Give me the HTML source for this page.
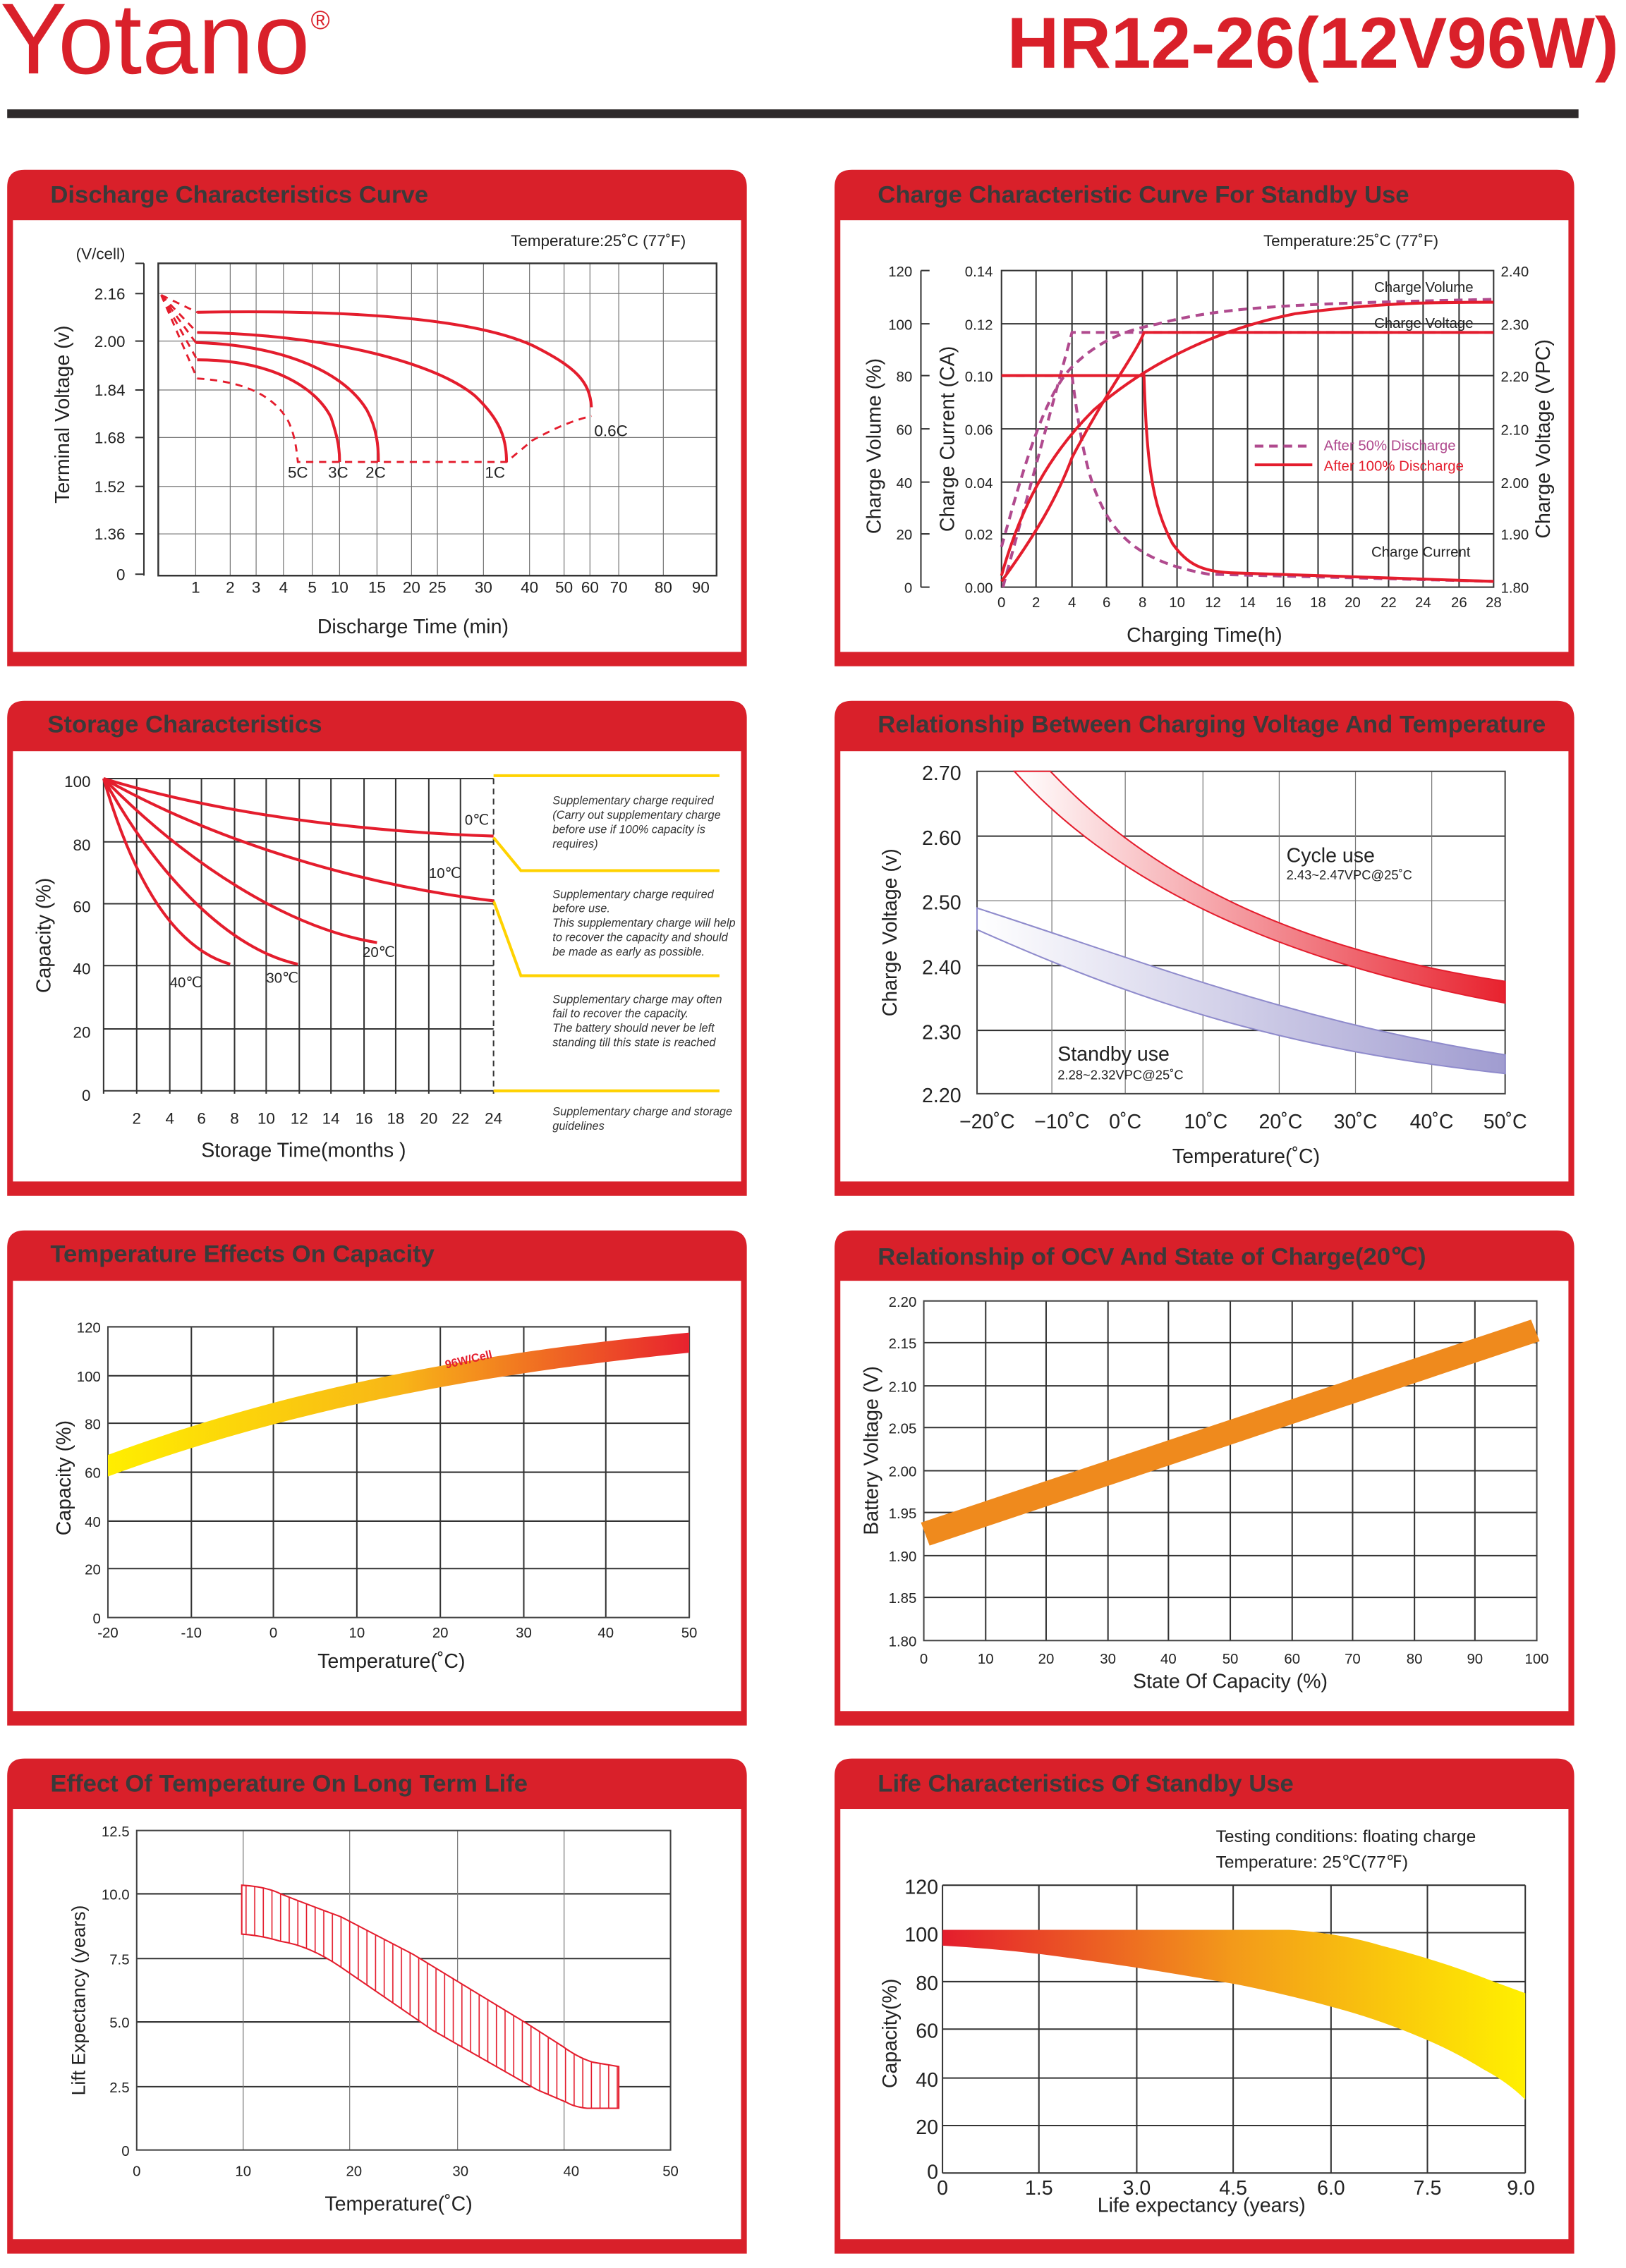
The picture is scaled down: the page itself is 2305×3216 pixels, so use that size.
<!DOCTYPE html>
<html><head><meta charset="utf-8"><style>
html,body{margin:0;padding:0;background:#fff;overflow:hidden;width:2305px;height:3216px}
svg{display:block}
text{font-family:"Liberation Sans",sans-serif}
</style></head><body>
<svg width="2305" height="3216" viewBox="0 0 1130 1576" preserveAspectRatio="none" xmlns="http://www.w3.org/2000/svg">
<defs>
<linearGradient id="gC" x1="0" x2="1"><stop offset="0" stop-color="#fff"/><stop offset="1" stop-color="#e8222e"/></linearGradient>
<linearGradient id="gS" x1="0" x2="1"><stop offset="0" stop-color="#fff"/><stop offset="1" stop-color="#a09cd0"/></linearGradient>
<linearGradient id="gT" x1="0" x2="1"><stop offset="0" stop-color="#ffee00"/><stop offset="0.5" stop-color="#f8b617"/><stop offset="1" stop-color="#e8222e"/></linearGradient>
<linearGradient id="gL" x1="0" x2="1"><stop offset="0" stop-color="#e41d2d"/><stop offset="0.5" stop-color="#f39a1a"/><stop offset="1" stop-color="#fff000"/></linearGradient>
<pattern id="hat" width="6" height="10" patternUnits="userSpaceOnUse"><rect width="6" height="10" fill="#fff"/><line x1="3" y1="0" x2="3" y2="10" stroke="#e41d2d" stroke-width="0.8"/></pattern>
</defs>
<style>
.g{stroke:#777;stroke-width:0.6}
.gd{stroke:#333;stroke-width:1}
.t{font-size:11px;fill:#222}
.ts{font-size:10px;fill:#222}
.h{font-size:17px;font-weight:bold;fill:#3a3a3a}
.r{fill:none;stroke:#e41d2d;stroke-width:2}
.rd{fill:none;stroke:#e41d2d;stroke-width:1.4;stroke-dasharray:5 4}
.pd{fill:none;stroke:#b04a8e;stroke-width:2;stroke-dasharray:6 4}
</style>
<!-- header -->
<text x="0" y="51" font-size="70" fill="#d9202a">Yotano</text>
<text x="216" y="20" font-size="18" fill="#d9202a">®</text>
<text x="1125" y="47" font-size="50" font-weight="bold" fill="#d9202a" text-anchor="end">HR12-26(12V96W)</text>
<rect x="5" y="76" width="1092" height="6" fill="#2e2a2b"/>

<!-- panels -->
<g fill="#d9202a">
<path d="M5,130 Q5,118 17,118 H507 Q519,118 519,130 V463 H5Z"/>
<path d="M580,130 Q580,118 592,118 H1082 Q1094,118 1094,130 V463 H580Z"/>
<path d="M5,499 Q5,487 17,487 H507 Q519,487 519,499 V831 H5Z"/>
<path d="M580,499 Q580,487 592,487 H1082 Q1094,487 1094,499 V831 H580Z"/>
<path d="M5,867 Q5,855 17,855 H507 Q519,855 519,867 V1199 H5Z"/>
<path d="M580,867 Q580,855 592,855 H1082 Q1094,855 1094,867 V1199 H580Z"/>
<path d="M5,1234 Q5,1222 17,1222 H507 Q519,1222 519,1234 V1566 H5Z"/>
<path d="M580,1234 Q580,1222 592,1222 H1082 Q1094,1222 1094,1234 V1566 H580Z"/>
</g>
<g fill="#fff">
<rect x="9" y="153" width="506" height="300"/><rect x="584" y="153" width="506" height="300"/>
<rect x="9" y="522" width="506" height="299"/><rect x="584" y="522" width="506" height="299"/>
<rect x="9" y="890" width="506" height="299"/><rect x="584" y="890" width="506" height="299"/>
<rect x="9" y="1257" width="506" height="299"/><rect x="584" y="1257" width="506" height="299"/>
</g>
<text class="h" x="35" y="141">Discharge Characteristics Curve</text>
<text class="h" x="610" y="141">Charge Characteristic Curve For Standby Use</text>
<text class="h" x="33" y="509">Storage Characteristics</text>
<text class="h" x="610" y="509">Relationship Between Charging Voltage And Temperature</text>
<text class="h" x="35" y="877">Temperature Effects On Capacity</text>
<text class="h" x="610" y="879">Relationship of OCV And State of Charge(20℃)</text>
<text class="h" x="35" y="1245">Effect Of Temperature On Long Term Life</text>
<text class="h" x="610" y="1245">Life Characteristics Of Standby Use</text>

<!-- P1 discharge -->
<g>
<text class="t" x="355" y="171">Temperature:25˚C (77˚F)</text>
<line x1="100" y1="183" x2="100" y2="400" stroke="#333"/>
<g class="gd"><line x1="94" y1="183" x2="100" y2="183"/><line x1="94" y1="204" x2="100" y2="204"/><line x1="94" y1="237" x2="100" y2="237"/><line x1="94" y1="271" x2="100" y2="271"/><line x1="94" y1="304" x2="100" y2="304"/><line x1="94" y1="338" x2="100" y2="338"/><line x1="94" y1="371" x2="100" y2="371"/><line x1="94" y1="399" x2="100" y2="399"/></g>
<g class="g"><line x1="110" y1="204" x2="498" y2="204"/><line x1="110" y1="237" x2="498" y2="237"/><line x1="110" y1="271" x2="498" y2="271"/><line x1="110" y1="304" x2="498" y2="304"/><line x1="110" y1="338" x2="498" y2="338"/><line x1="110" y1="371" x2="498" y2="371"/>
<line x1="136" y1="183" x2="136" y2="400"/><line x1="160" y1="183" x2="160" y2="400"/><line x1="178" y1="183" x2="178" y2="400"/><line x1="197" y1="183" x2="197" y2="400"/><line x1="217" y1="183" x2="217" y2="400"/><line x1="236" y1="183" x2="236" y2="400"/><line x1="262" y1="183" x2="262" y2="400"/><line x1="286" y1="183" x2="286" y2="400"/><line x1="304" y1="183" x2="304" y2="400"/><line x1="336" y1="183" x2="336" y2="400"/><line x1="368" y1="183" x2="368" y2="400"/><line x1="392" y1="183" x2="392" y2="400"/><line x1="410" y1="183" x2="410" y2="400"/><line x1="430" y1="183" x2="430" y2="400"/><line x1="461" y1="183" x2="461" y2="400"/></g>
<rect x="110" y="183" width="388" height="217" fill="none" stroke="#333" stroke-width="1.2"/>
<g class="t" text-anchor="end"><text x="87" y="180">(V/cell)</text><text x="87" y="208">2.16</text><text x="87" y="241">2.00</text><text x="87" y="275">1.84</text><text x="87" y="308">1.68</text><text x="87" y="342">1.52</text><text x="87" y="375">1.36</text><text x="87" y="403">0</text></g>
<g class="t" text-anchor="middle"><text x="136" y="412">1</text><text x="160" y="412">2</text><text x="178" y="412">3</text><text x="197" y="412">4</text><text x="217" y="412">5</text><text x="236" y="412">10</text><text x="262" y="412">15</text><text x="286" y="412">20</text><text x="304" y="412">25</text><text x="336" y="412">30</text><text x="368" y="412">40</text><text x="392" y="412">50</text><text x="410" y="412">60</text><text x="430" y="412">70</text><text x="461" y="412">80</text><text x="487" y="412">90</text></g>
<text x="287" y="440" font-size="14" text-anchor="middle" fill="#222">Discharge Time (min)</text>
<text transform="translate(48,288) rotate(-90)" font-size="14" text-anchor="middle" fill="#222">Terminal  Voltage  (v)</text>
<path class="r" d="M137,217 C250,215 330,222 370,240 C400,255 410,265 411,283"/>
<path class="r" d="M137,231 C220,232 300,250 330,275 C348,292 352,305 352,321"/>
<path class="r" d="M136,238 C200,240 240,260 255,285 C262,298 263,310 263,321"/>
<path class="r" d="M137,250 C190,250 220,270 230,290 C235,305 236,312 236,321"/>
<path class="rd" d="M137,263 C170,265 190,275 200,292 C205,302 206,312 207,321 H352 L370,306 C390,295 400,292 411,289"/>
<path class="rd" d="M112,205 L137,217 M112,205 L137,231 M112,205 L136,238 M112,205 L137,250 M112,205 L137,263"/>
<g class="t" font-size="12"><text x="200" y="332">5C</text><text x="228" y="332">3C</text><text x="254" y="332">2C</text><text x="337" y="332">1C</text><text x="413" y="303">0.6C</text></g>
</g>

<!-- P2 charge -->
<g>
<text class="t" x="878" y="171">Temperature:25˚C (77˚F)</text>
<line x1="640" y1="188" x2="640" y2="408" stroke="#333"/>
<g class="gd"><line x1="640" y1="188" x2="646" y2="188"/><line x1="640" y1="225" x2="646" y2="225"/><line x1="640" y1="261" x2="646" y2="261"/><line x1="640" y1="298" x2="646" y2="298"/><line x1="640" y1="335" x2="646" y2="335"/><line x1="640" y1="371" x2="646" y2="371"/><line x1="640" y1="408" x2="646" y2="408"/>
<line x1="696" y1="225" x2="1038" y2="225"/><line x1="696" y1="261" x2="1038" y2="261"/><line x1="696" y1="298" x2="1038" y2="298"/><line x1="696" y1="335" x2="1038" y2="335"/><line x1="696" y1="371" x2="1038" y2="371"/>
<line x1="720" y1="188" x2="720" y2="408"/><line x1="745" y1="188" x2="745" y2="408"/><line x1="769" y1="188" x2="769" y2="408"/><line x1="794" y1="188" x2="794" y2="408"/><line x1="818" y1="188" x2="818" y2="408"/><line x1="843" y1="188" x2="843" y2="408"/><line x1="867" y1="188" x2="867" y2="408"/><line x1="892" y1="188" x2="892" y2="408"/><line x1="916" y1="188" x2="916" y2="408"/><line x1="940" y1="188" x2="940" y2="408"/><line x1="965" y1="188" x2="965" y2="408"/><line x1="989" y1="188" x2="989" y2="408"/><line x1="1014" y1="188" x2="1014" y2="408"/></g>
<rect x="696" y="188" width="342" height="220" fill="none" stroke="#333"/>
<g class="ts" text-anchor="end"><text x="634" y="192">120</text><text x="634" y="229">100</text><text x="634" y="265">80</text><text x="634" y="302">60</text><text x="634" y="339">40</text><text x="634" y="375">20</text><text x="634" y="412">0</text>
<text x="690" y="192">0.14</text><text x="690" y="229">0.12</text><text x="690" y="265">0.10</text><text x="690" y="302">0.06</text><text x="690" y="339">0.04</text><text x="690" y="375">0.02</text><text x="690" y="412">0.00</text></g>
<g class="ts"><text x="1043" y="192">2.40</text><text x="1043" y="229">2.30</text><text x="1043" y="265">2.20</text><text x="1043" y="302">2.10</text><text x="1043" y="339">2.00</text><text x="1043" y="375">1.90</text><text x="1043" y="412">1.80</text></g>
<g class="ts" text-anchor="middle"><text x="696" y="422">0</text><text x="720" y="422">2</text><text x="745" y="422">4</text><text x="769" y="422">6</text><text x="794" y="422">8</text><text x="818" y="422">10</text><text x="843" y="422">12</text><text x="867" y="422">14</text><text x="892" y="422">16</text><text x="916" y="422">18</text><text x="940" y="422">20</text><text x="965" y="422">22</text><text x="989" y="422">24</text><text x="1014" y="422">26</text><text x="1038" y="422">28</text></g>
<text x="837" y="446" font-size="14" text-anchor="middle" fill="#222">Charging Time(h)</text>
<text transform="translate(612,310) rotate(-90)" font-size="14" text-anchor="middle" fill="#222">Charge Volume (%)</text>
<text transform="translate(663,305) rotate(-90)" font-size="14" text-anchor="middle" fill="#222">Charge Current (CA)</text>
<text transform="translate(1077,305) rotate(-90)" font-size="14" text-anchor="middle" fill="#222">Charge Voltage (VPC)</text>
<path class="pd" d="M696,261 H745 M697,408 L745,231 H1038"/>
<path class="pd" d="M696,380 C710,330 725,275 745,255 C765,235 785,229 805,225 C850,213 900,211 1038,208"/>
<path class="pd" d="M745,261 C750,300 755,330 765,350 C778,378 800,392 840,399 L1038,404"/>
<path class="r" d="M696,261 H795 C797,320 800,350 815,378 C825,392 835,397 855,398 L1038,404"/>
<path class="r" d="M696,404 C720,371 735,345 745,318 C770,270 790,245 795,231 H1038"/>
<path class="r" d="M696,400 C710,350 730,315 760,285 C800,250 850,228 900,218 C960,210 1000,210 1038,210"/>
<text class="ts" x="955" y="203" font-size="12">Charge Volume</text>
<text class="ts" x="955" y="228" font-size="12">Charge Voltage</text>
<text class="ts" x="953" y="387" font-size="12">Charge Current</text>
<line x1="872" y1="310" x2="912" y2="310" class="pd"/>
<line x1="872" y1="323" x2="912" y2="323" class="r"/>
<text x="920" y="313" font-size="10" fill="#b04a8e">After 50% Discharge</text>
<text x="920" y="327" font-size="10" fill="#e41d2d">After 100% Discharge</text>
</g>

<!-- P3 storage -->
<g>
<g class="gd"><line x1="72" y1="585" x2="343" y2="585"/><line x1="72" y1="628" x2="343" y2="628"/><line x1="72" y1="671" x2="343" y2="671"/><line x1="72" y1="715" x2="343" y2="715"/>
<line x1="95" y1="541" x2="95" y2="760"/><line x1="118" y1="541" x2="118" y2="760"/><line x1="140" y1="541" x2="140" y2="760"/><line x1="163" y1="541" x2="163" y2="760"/><line x1="185" y1="541" x2="185" y2="760"/><line x1="208" y1="541" x2="208" y2="760"/><line x1="230" y1="541" x2="230" y2="760"/><line x1="253" y1="541" x2="253" y2="760"/><line x1="275" y1="541" x2="275" y2="760"/><line x1="298" y1="541" x2="298" y2="760"/><line x1="320" y1="541" x2="320" y2="760"/></g>
<line x1="72" y1="541" x2="343" y2="541" stroke="#333"/><line x1="72" y1="758" x2="343" y2="758" stroke="#333"/>
<line x1="72" y1="541" x2="72" y2="760" stroke="#333"/><line x1="343" y1="541" x2="343" y2="760" stroke="#333" stroke-dasharray="4 3"/>
<g stroke="#ffd200" stroke-width="2" fill="none"><path d="M343,539 H500"/><path d="M343,582 L362,605 H500"/><path d="M343,626 L362,678 H500"/><path d="M343,758 H500"/></g>
<g class="r" stroke-width="1.1"><path d="M72,541 C150,565 250,578 343,581"/><path d="M72,541 C150,585 250,615 343,626"/><path d="M72,541 C130,600 200,645 262,655"/><path d="M72,541 C110,610 160,660 207,670"/><path d="M72,541 C95,620 125,660 160,670"/></g>
<g class="ts" fill="#333"><text x="323" y="573">0℃</text><text x="298" y="610">10℃</text><text x="252" y="665">20℃</text><text x="185" y="683">30℃</text><text x="118" y="686">40℃</text></g>
<g class="t" font-size="13" text-anchor="end"><text x="63" y="547">100</text><text x="63" y="591">80</text><text x="63" y="634">60</text><text x="63" y="677">40</text><text x="63" y="721">20</text><text x="63" y="765">0</text></g>
<g class="t" font-size="12" text-anchor="middle"><text x="95" y="781">2</text><text x="118" y="781">4</text><text x="140" y="781">6</text><text x="163" y="781">8</text><text x="185" y="781">10</text><text x="208" y="781">12</text><text x="230" y="781">14</text><text x="253" y="781">16</text><text x="275" y="781">18</text><text x="298" y="781">20</text><text x="320" y="781">22</text><text x="343" y="781">24</text></g>
<text x="211" y="804" font-size="14" text-anchor="middle" fill="#222">Storage Time(months )</text>
<text transform="translate(35,650) rotate(-90)" font-size="14" text-anchor="middle" fill="#222">Capacity  (%)</text>
<g font-size="8" font-style="italic" fill="#333"><text x="384" y="559">Supplementary charge required</text><text x="384" y="569">(Carry out supplementary charge</text><text x="384" y="579">before use if 100% capacity is</text><text x="384" y="589">requires)</text>
<text x="384" y="624">Supplementary charge required</text><text x="384" y="634">before use.</text><text x="384" y="644">This supplementary charge will help</text><text x="384" y="654">to recover the capacity and should</text><text x="384" y="664">be made  as early as possible.</text>
<text x="384" y="697">Supplementary charge may often</text><text x="384" y="707">fail to recover the capacity.</text><text x="384" y="717">The battery should never be left</text><text x="384" y="727">standing till this state is reached</text>
<text x="384" y="775">Supplementary charge and storage</text><text x="384" y="785">guidelines</text></g>
</g>

<!-- P4 voltage vs temp -->
<g>
<g class="gd"><line x1="679" y1="581" x2="1046" y2="581"/><line x1="679" y1="671" x2="1046" y2="671"/><line x1="679" y1="716" x2="1046" y2="716"/></g>
<g class="g"><line x1="679" y1="626" x2="1046" y2="626"/><line x1="731" y1="536" x2="731" y2="760"/><line x1="782" y1="536" x2="782" y2="760"/><line x1="836" y1="536" x2="836" y2="760"/><line x1="889" y1="536" x2="889" y2="760"/><line x1="942" y1="536" x2="942" y2="760"/><line x1="995" y1="536" x2="995" y2="760"/></g>
<rect x="679" y="536" width="367" height="224" fill="none" stroke="#444"/>
<path d="M705,536 H730 C800,610 900,660 1046,682 V697 C900,670 780,620 705,536Z" fill="url(#gC)" stroke="#e41d2d" stroke-width="1"/>
<path d="M679,631 C800,670 900,710 1046,733 V746 C900,730 800,700 679,646Z" fill="url(#gS)" stroke="#8f8bcc" stroke-width="1"/>
<g font-size="14" fill="#222" text-anchor="end"><text x="668" y="542">2.70</text><text x="668" y="587">2.60</text><text x="668" y="632">2.50</text><text x="668" y="677">2.40</text><text x="668" y="722">2.30</text><text x="668" y="766">2.20</text></g>
<g font-size="14" fill="#222" text-anchor="middle"><text x="686" y="784">−20˚C</text><text x="738" y="784">−10˚C</text><text x="782" y="784">0˚C</text><text x="838" y="784">10˚C</text><text x="890" y="784">20˚C</text><text x="942" y="784">30˚C</text><text x="995" y="784">40˚C</text><text x="1046" y="784">50˚C</text></g>
<text x="866" y="808" font-size="14" text-anchor="middle" fill="#222">Temperature(˚C)</text>
<text transform="translate(623,648) rotate(-90)" font-size="14" text-anchor="middle" fill="#222">Charge Voltage  (v)</text>
<text x="894" y="599" font-size="14" fill="#222">Cycle use</text><text x="894" y="611" font-size="9" fill="#222">2.43~2.47VPC@25˚C</text>
<text x="735" y="737" font-size="14" fill="#222">Standby use</text><text x="735" y="750" font-size="9" fill="#222">2.28~2.32VPC@25˚C</text>
</g>

<!-- P5 temp capacity -->
<g>
<g class="gd"><line x1="75" y1="922" x2="479" y2="922"/><line x1="75" y1="956" x2="479" y2="956"/><line x1="75" y1="989" x2="479" y2="989"/><line x1="75" y1="1023" x2="479" y2="1023"/><line x1="75" y1="1057" x2="479" y2="1057"/><line x1="75" y1="1090" x2="479" y2="1090"/>
<line x1="133" y1="922" x2="133" y2="1124"/><line x1="190" y1="922" x2="190" y2="1124"/><line x1="248" y1="922" x2="248" y2="1124"/><line x1="306" y1="922" x2="306" y2="1124"/><line x1="364" y1="922" x2="364" y2="1124"/><line x1="421" y1="922" x2="421" y2="1124"/><line x1="479" y1="922" x2="479" y2="1124"/></g>
<rect x="75" y="922" width="404" height="202" fill="none" stroke="#444"/>
<path d="M75,1011 C200,965 330,940 479,926 V940 C330,955 200,980 75,1026Z" fill="url(#gT)"/>
<text transform="translate(310,951) rotate(-13)" font-size="8" font-weight="bold" fill="#e41d2d">96W/Cell</text>
<g class="ts" text-anchor="end"><text x="70" y="926">120</text><text x="70" y="960">100</text><text x="70" y="993">80</text><text x="70" y="1027">60</text><text x="70" y="1061">40</text><text x="70" y="1094">20</text><text x="70" y="1128">0</text></g>
<g class="ts" text-anchor="middle"><text x="75" y="1138">-20</text><text x="133" y="1138">-10</text><text x="190" y="1138">0</text><text x="248" y="1138">10</text><text x="306" y="1138">20</text><text x="364" y="1138">30</text><text x="421" y="1138">40</text><text x="479" y="1138">50</text></g>
<text x="272" y="1159" font-size="14" text-anchor="middle" fill="#222">Temperature(˚C)</text>
<text transform="translate(49,1027) rotate(-90)" font-size="14" text-anchor="middle" fill="#222">Capacity  (%)</text>
</g>

<!-- P6 OCV -->
<g>
<g class="gd"><line x1="642" y1="933" x2="1068" y2="933"/><line x1="642" y1="963" x2="1068" y2="963"/><line x1="642" y1="992" x2="1068" y2="992"/><line x1="642" y1="1022" x2="1068" y2="1022"/><line x1="642" y1="1051" x2="1068" y2="1051"/><line x1="642" y1="1081" x2="1068" y2="1081"/><line x1="642" y1="1110" x2="1068" y2="1110"/>
<line x1="685" y1="904" x2="685" y2="1140"/><line x1="727" y1="904" x2="727" y2="1140"/><line x1="770" y1="904" x2="770" y2="1140"/><line x1="812" y1="904" x2="812" y2="1140"/><line x1="855" y1="904" x2="855" y2="1140"/><line x1="898" y1="904" x2="898" y2="1140"/><line x1="940" y1="904" x2="940" y2="1140"/><line x1="983" y1="904" x2="983" y2="1140"/><line x1="1025" y1="904" x2="1025" y2="1140"/></g>
<rect x="642" y="904" width="426" height="236" fill="none" stroke="#444"/>
<path d="M640,1058 L1064,917 L1070,932 L646,1074Z" fill="#ef8a1d"/>
<g class="ts" text-anchor="end"><text x="637" y="908">2.20</text><text x="637" y="937">2.15</text><text x="637" y="967">2.10</text><text x="637" y="996">2.05</text><text x="637" y="1026">2.00</text><text x="637" y="1055">1.95</text><text x="637" y="1085">1.90</text><text x="637" y="1114">1.85</text><text x="637" y="1144">1.80</text></g>
<g class="ts" text-anchor="middle"><text x="642" y="1156">0</text><text x="685" y="1156">10</text><text x="727" y="1156">20</text><text x="770" y="1156">30</text><text x="812" y="1156">40</text><text x="855" y="1156">50</text><text x="898" y="1156">60</text><text x="940" y="1156">70</text><text x="983" y="1156">80</text><text x="1025" y="1156">90</text><text x="1068" y="1156">100</text></g>
<text x="855" y="1173" font-size="14" text-anchor="middle" fill="#222">State Of Capacity (%)</text>
<text transform="translate(610,1008) rotate(-90)" font-size="14" text-anchor="middle" fill="#222">Battery Voltage (V)</text>
</g>

<!-- P7 life temp -->
<g>
<g class="gd"><line x1="95" y1="1316" x2="466" y2="1316"/><line x1="95" y1="1361" x2="466" y2="1361"/><line x1="95" y1="1405" x2="466" y2="1405"/><line x1="95" y1="1450" x2="466" y2="1450"/></g>
<g class="g"><line x1="169" y1="1272" x2="169" y2="1494"/><line x1="243" y1="1272" x2="243" y2="1494"/><line x1="318" y1="1272" x2="318" y2="1494"/><line x1="392" y1="1272" x2="392" y2="1494"/></g>
<rect x="95" y="1272" width="371" height="222" fill="none" stroke="#444"/>
<path d="M168,1310 Q185,1311 195,1316 Q210,1322 237,1332 L287,1358 L366,1406 Q380,1415 391,1422 Q402,1430 412,1433 L430,1436 V1465 H408 Q399,1464 394,1461 L373,1452 L301,1411 L237,1367 Q215,1352 195,1349 Q182,1345 168,1344Z" fill="url(#hat)" stroke="#e41d2d" stroke-width="1"/>
<g class="ts" text-anchor="end"><text x="90" y="1276">12.5</text><text x="90" y="1320">10.0</text><text x="90" y="1365">7.5</text><text x="90" y="1409">5.0</text><text x="90" y="1454">2.5</text><text x="90" y="1498">0</text></g>
<g class="ts" text-anchor="middle"><text x="95" y="1512">0</text><text x="169" y="1512">10</text><text x="246" y="1512">20</text><text x="320" y="1512">30</text><text x="397" y="1512">40</text><text x="466" y="1512">50</text></g>
<text x="277" y="1536" font-size="14" text-anchor="middle" fill="#222">Temperature(˚C)</text>
<text transform="translate(59,1390) rotate(-90)" font-size="13" text-anchor="middle" fill="#222">Lift Expectancy   (years)</text>
</g>

<!-- P8 life standby -->
<g>
<g class="gd" stroke-width="1.2"><line x1="655" y1="1310" x2="1060" y2="1310"/><line x1="655" y1="1343" x2="1060" y2="1343"/><line x1="655" y1="1377" x2="1060" y2="1377"/><line x1="655" y1="1410" x2="1060" y2="1410"/><line x1="655" y1="1444" x2="1060" y2="1444"/><line x1="655" y1="1477" x2="1060" y2="1477"/><line x1="655" y1="1510" x2="1060" y2="1510"/>
<line x1="722" y1="1310" x2="722" y2="1510"/><line x1="790" y1="1310" x2="790" y2="1510"/><line x1="857" y1="1310" x2="857" y2="1510"/><line x1="925" y1="1310" x2="925" y2="1510"/><line x1="992" y1="1310" x2="992" y2="1510"/><line x1="1060" y1="1310" x2="1060" y2="1510"/><line x1="655" y1="1310" x2="655" y2="1510"/></g>
<path d="M655,1341 H896 Q930,1343 960,1352 Q1003,1363 1038,1377 L1060,1385 V1459 Q1048,1447 1031,1438 Q1010,1425 988,1416 Q960,1404 931,1396 Q895,1386 860,1379 Q820,1372 788,1367 Q755,1362 724,1358 Q690,1354 655,1352Z" fill="url(#gL)"/>
<text x="845" y="1280" font-size="12" fill="#222">Testing conditions: floating charge</text>
<text x="845" y="1298" font-size="12" fill="#222">Temperature: 25℃(77℉)</text>
<g font-size="14" fill="#222" text-anchor="end"><text x="652" y="1316">120</text><text x="652" y="1349">100</text><text x="652" y="1383">80</text><text x="652" y="1416">60</text><text x="652" y="1450">40</text><text x="652" y="1483">20</text><text x="652" y="1514">0</text></g>
<g font-size="14" fill="#222" text-anchor="middle"><text x="655" y="1525">0</text><text x="722" y="1525">1.5</text><text x="790" y="1525">3.0</text><text x="857" y="1525">4.5</text><text x="925" y="1525">6.0</text><text x="992" y="1525">7.5</text><text x="1057" y="1525">9.0</text></g>
<text x="835" y="1537" font-size="14" text-anchor="middle" fill="#222">Life expectancy (years)</text>
<text transform="translate(623,1413) rotate(-90)" font-size="14" text-anchor="middle" fill="#222">Capacity(%)</text>
</g>
</svg>
</body></html>
